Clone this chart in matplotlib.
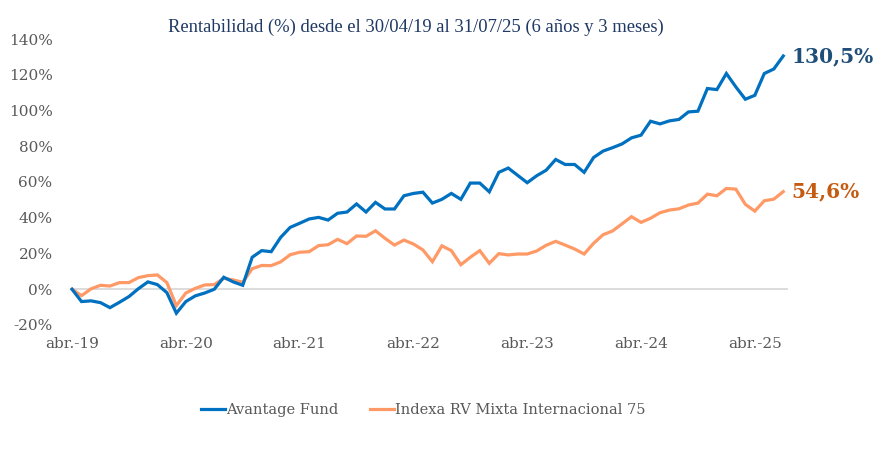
import numpy as np
import matplotlib
matplotlib.use("Agg")
import matplotlib.pyplot as plt

# monthly cumulative return (%), abr.-19 .. jul.-25
fund = [0, -6.9, -6.5, -7.5, -10.3, -7.3, -4.1, 0.3, 4.1, 2.6,
        -1.9, -13.4, -6.9, -3.7, -2.1, 0, 6.7, 4.1, 2.2, 17.9,
        21.6, 21.0, 29.0, 34.6, 36.9, 39.3, 40.2, 38.7, 42.5, 43.2,
        47.7, 43.2, 48.6, 44.9, 44.9, 52.3, 53.6, 54.3, 48.2, 50.3,
        53.6, 50.3, 59.4, 59.4, 54.5, 65.4, 67.8, 63.7, 59.6, 63.5,
        66.6, 72.6, 69.8, 69.8, 65.4, 73.7, 77.3, 79.2, 81.3, 84.7,
        86.2, 94.0, 92.5, 94.2, 95.0, 99.2, 99.6, 112.3, 111.7, 120.7,
        113.2, 106.3, 108.5, 120.7, 123.2, 130.5]
index75 = [0, -3.6, 0.2, 2.2, 1.8, 3.7, 3.7, 6.5, 7.6, 8.0,
           3.7, -9.2, -2.1, 0.5, 2.4, 2.6, 6.1, 5.2, 3.9, 11.5,
           13.3, 13.2, 15.3, 19.3, 20.7, 21.0, 24.4, 24.9, 27.9, 25.5,
           29.8, 29.6, 32.7, 28.5, 24.7, 27.5, 25.3, 22.0, 15.4, 24.3,
           21.6, 13.7, 17.9, 21.6, 14.5, 19.9, 19.2, 19.7, 19.7, 21.4,
           24.6, 26.8, 24.7, 22.5, 19.7, 25.7, 30.5, 32.6, 36.6, 40.6,
           37.4, 39.7, 42.8, 44.3, 45.0, 47.1, 48.2, 53.2, 52.3, 56.4,
           56.0, 47.5, 43.7, 49.5, 50.4, 54.6]
tick_labels = ["abr.-19", "abr.-20", "abr.-21", "abr.-22", "abr.-23", "abr.-24", "abr.-25"]
y_ticks = [-20, 0, 20, 40, 60, 80, 100, 120, 140]
end_labels = ["130,5%", "54,6%"]
names = ["Avantage Fund", "Indexa RV Mixta Internacional 75"]

blue = "#0070C0"
orange = "#FF9966"
grey = "#595959"
serif = ["DejaVu Serif"]

fig = plt.figure(figsize=(8.86, 4.53), dpi=100)
ax = fig.add_axes([0.0813, 0.2826, 0.8081, 0.6313])

months = np.arange(len(fund))
l1, = ax.plot(months, fund, color=blue, lw=2.3, solid_joinstyle="miter", clip_on=False, zorder=3)
l2, = ax.plot(months, index75, color=orange, lw=2.3, solid_joinstyle="miter", clip_on=False, zorder=2)

ax.axhline(0, color="#D9D9D9", lw=1.3, zorder=1)
ax.set_xlim(0, 75.5)
ax.set_ylim(-20, 140)
for s in ax.spines.values():
    s.set_visible(False)

ax.set_yticks(y_ticks)
ax.set_yticklabels([f"{v}%" for v in y_ticks], family=serif, fontsize=11, color=grey)
ax.set_xticks(np.arange(0, len(fund), 12))
ax.set_xticklabels(tick_labels, family=serif, fontsize=11, color=grey)
ax.tick_params(length=0, axis="y", pad=14)
ax.tick_params(length=0, axis="x", pad=9)

ax.annotate(end_labels[0], xy=(months[-1], fund[-1]), xytext=(6, 0), textcoords="offset points",
            va="center", ha="left", family=serif, fontsize=14.5, color="#1F4E79", fontweight="bold",
            annotation_clip=False)
ax.annotate(end_labels[1], xy=(months[-1], index75[-1]), xytext=(6, 0), textcoords="offset points",
            va="center", ha="left", family=serif, fontsize=14.5, color="#C55A11", fontweight="bold",
            annotation_clip=False)

fig.text(0.469, 0.94, "Rentabilidad (%) desde el 30/04/19 al 31/07/25 (6 años y 3 meses)",
         ha="center", va="center", family=["Liberation Serif"], fontsize=13.4, color="#1F3864")

fig.legend([l1, l2], names, loc="center", bbox_to_anchor=(0.478, 0.095), ncol=2, frameon=False,
           prop={"family": serif, "size": 10.5}, labelcolor=grey, handlelength=1.6,
           handletextpad=0.1, columnspacing=2.2)

fig.savefig("out.png", dpi=100)
